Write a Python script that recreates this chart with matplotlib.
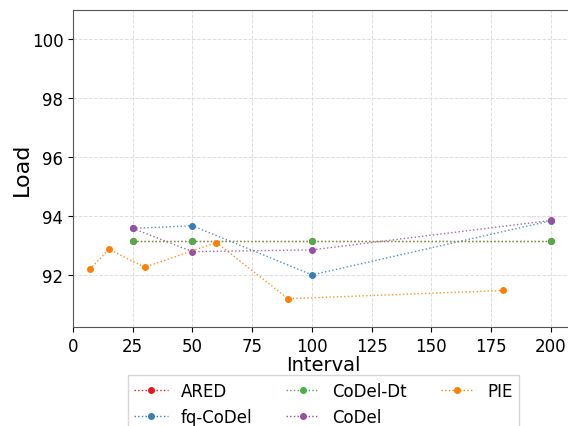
import matplotlib.pyplot as plt
from matplotlib.lines import Line2D

# values
names = ["ARED", "fq-CoDel", "CoDel-Dt", "CoDel", "PIE"]
colors = ["#e41a1c", "#377eb8", "#4daf4a", "#984ea3", "#ff7f00"]

ared_x = [25, 50, 100, 200]
ared_y = [93.15, 93.15, 93.15, 93.15]
fq_x = [25, 50, 100, 200]
fq_y = [93.58, 93.67, 92.0, 93.84]
dt_x = [25, 50, 100, 200]
dt_y = [93.15, 93.15, 93.15, 93.15]
codel_x = [25, 50, 100, 200]
codel_y = [93.58, 92.79, 92.85, 93.85]
pie_x = [7, 15, 30, 60, 90, 180]
pie_y = [92.19, 92.87, 92.26, 93.1, 91.19, 91.47]

series = [(ared_x, ared_y), (fq_x, fq_y), (dt_x, dt_y), (codel_x, codel_y), (pie_x, pie_y)]

fig = plt.figure(figsize=(5.68, 4.27), dpi=100)
ax = fig.add_axes([0.1285, 0.2319, 0.882, 0.7423])

for (x, y), c in zip(series, colors):
    ax.plot(x, y, linestyle=":", color=c, linewidth=1, alpha=0.85)
    ax.plot(x, y, linestyle="none", marker="o", color=c, markersize=4)

ax.set_xlim(0, 209.65)
ax.set_ylim(90.23, 101.0)
ax.set_xticks([0, 25, 50, 75, 100, 125, 150, 175, 200])
ax.set_yticks([92, 94, 96, 98, 100])
ax.tick_params(labelsize=12)
ax.grid(True, linestyle="--", color="#dddddd", linewidth=0.7)
for s in ax.spines.values():
    s.set_color("#555555")
ax.set_xlabel("Interval", fontsize=14, labelpad=0)
ax.set_ylabel("Load", fontsize=16, labelpad=0)

handles = [Line2D([0], [0], linestyle=":", color=c, marker="o", markersize=4, linewidth=1)
           for c in colors]
ax.legend(handles, names, loc="upper center", bbox_to_anchor=(0.5, -0.126), ncol=3,
          fontsize=12, fancybox=False)

fig.savefig("out.png", dpi=100)
